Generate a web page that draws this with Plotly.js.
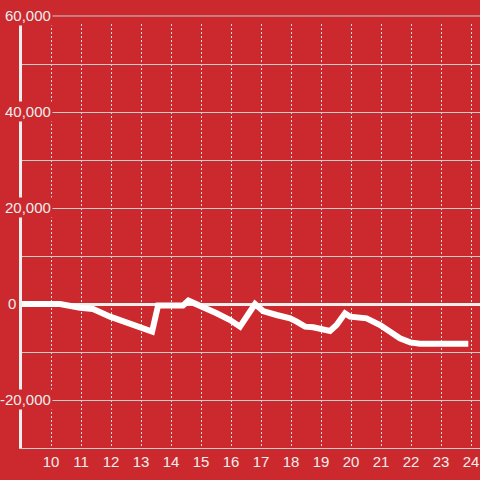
<!DOCTYPE html>
<html>
<head>
<meta charset="utf-8">
<script src="https://cdn.plot.ly/plotly-3.0.1.min.js"></script>
<style>
  html, body { margin: 0; padding: 0; background: #cc292e; }
  #chart { width: 480px; height: 480px; }
</style>
</head>
<body>
<div id="chart"></div>
<script>
// Data
var hours = [8.9, 10.3, 10.97, 11.4, 11.97, 12.3, 12.73, 13.13, 13.37, 13.57, 14.4, 14.58, 15.07, 15.52, 15.97, 16.24, 16.3, 16.8, 17.07, 17.52, 17.97, 18.19, 18.47, 18.74, 19.19, 19.3, 19.52, 19.8, 19.97, 20.52, 20.97, 21.3, 21.63, 21.97, 22.3, 23.91];
var values = [0, 0, -770, -1040, -2640, -3330, -4170, -5200, -5760, -300, -300, 700, -560, -1940, -3330, -4510, -4720, 0, -1460, -2290, -2990, -3680, -4720, -4860, -5560, -5625, -4375, -1940, -2640, -2990, -4375, -5760, -7150, -7990, -8260, -8260];
var yTickValues = [60000, 40000, 20000, 0, -20000];
var xTickValues = [10, 11, 12, 13, 14, 15, 16, 17, 18, 19, 20, 21, 22, 23, 24];

var BG = '#cc292e';
var TXT = '#eeeeee';
var FONT = 'Liberation Sans, Arial, sans-serif';

var yMin = -30000, yMax = 58333;
var mL = 22, plotW = 458;

function fmt(v) {
  return v.toLocaleString('en-US');
}

var annotations = yTickValues.map(function (v) {
  var rightPx = (v === 0) ? 18 : 53;
  return {
    xref: 'paper', yref: 'paper',
    x: (rightPx - mL) / plotW,
    y: (v - yMin) / (yMax - yMin),
    xanchor: 'right', yanchor: 'middle',
    text: fmt(v),
    showarrow: false,
    bgcolor: v === 0 ? 'rgba(0,0,0,0)' : BG,
    borderpad: 1,
    font: { family: FONT, size: 15, color: TXT }
  };
});

var trace = {
  x: hours,
  y: values,
  type: 'scatter',
  mode: 'lines',
  line: { color: '#ffffff', width: 6 },
  hoverinfo: 'skip'
};

var layout = {
  width: 480, height: 480,
  margin: { l: mL, r: 0, t: 24, b: 32 },
  paper_bgcolor: BG,
  plot_bgcolor: BG,
  showlegend: false,
  font: { family: FONT, size: 15, color: TXT },
  xaxis: {
    range: [9.0333, 24.3],
    tickmode: 'array',
    tickvals: xTickValues,
    ticktext: xTickValues.map(String),
    showgrid: true,
    gridcolor: '#d8dede',
    griddash: '2px,2px',
    gridwidth: 1,
    showline: true,
    linecolor: '#cccccc',
    linewidth: 1,
    zeroline: false,
    ticks: '',
    tickfont: { family: FONT, size: 15, color: TXT }
  },
  yaxis: {
    range: [yMin, yMax],
    tick0: 0,
    dtick: 10000,
    showticklabels: false,
    showgrid: true,
    gridcolor: '#cccccc',
    gridwidth: 1,
    showline: true,
    linecolor: '#eeeeee',
    linewidth: 3,
    zeroline: true,
    zerolinecolor: '#eeeeee',
    zerolinewidth: 3,
    ticks: ''
  },
  shapes: [{
    type: 'line', xref: 'paper', yref: 'paper',
    x0: 0, x1: 1,
    y0: (60000 - yMin) / (yMax - yMin), y1: (60000 - yMin) / (yMax - yMin),
    line: { color: '#cccccc', width: 1 },
    layer: 'below'
  }],
  annotations: annotations
};

Plotly.newPlot('chart', [trace], layout, { staticPlot: true, displayModeBar: false });
</script>
</body>
</html>
